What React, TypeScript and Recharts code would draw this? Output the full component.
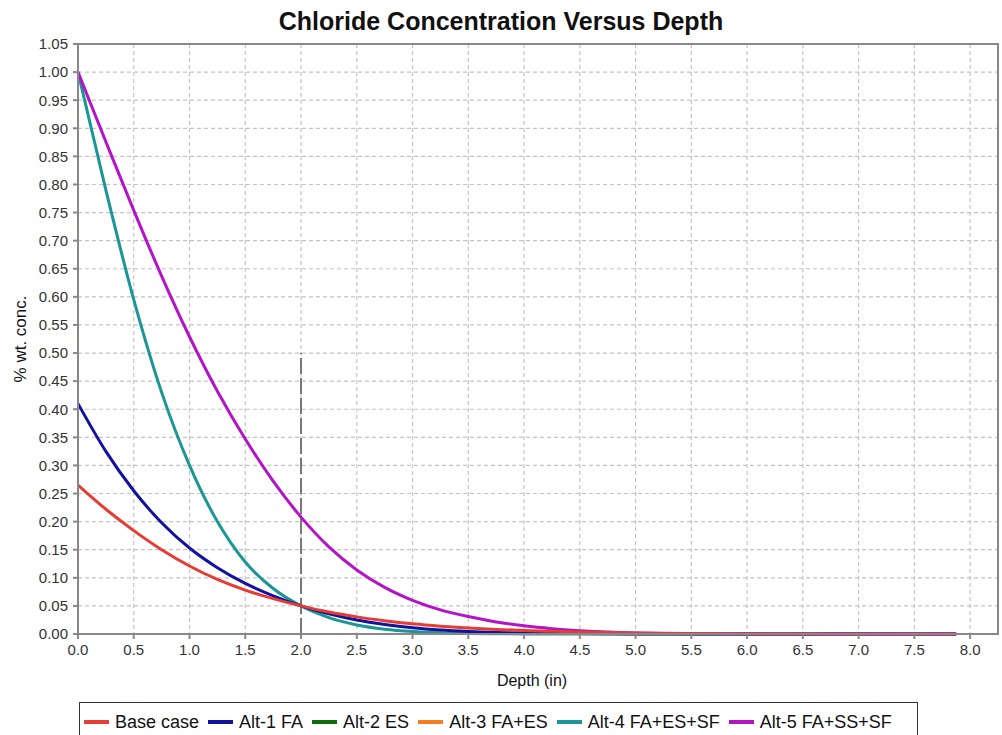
import {
  CartesianGrid,
  Legend,
  Line,
  LineChart,
  ReferenceArea,
  ReferenceLine,
  XAxis,
  YAxis,
} from "recharts";

// depth (in) where the profiles were sampled
const depth = [
  0, 0.25, 0.5, 0.75, 1, 1.25, 1.5, 1.75, 2, 2.25, 2.5, 2.75, 3, 3.25, 3.5, 3.75, 4, 4.25, 4.5,
  4.75, 5, 5.25, 5.5, 5.75, 6, 6.25, 6.5, 6.75, 7, 7.25, 7.5, 7.75, 7.875,
];

// % wt. concentration for each mix
const baseCase = [
  0.265, 0.222, 0.184, 0.15, 0.121, 0.097, 0.078, 0.063, 0.05, 0.039, 0.0305, 0.0237, 0.0182, 0.014,
  0.0107, 0.0082, 0.0062, 0.0047, 0.0035, 0.0026, 0.0019, 0.0014, 0.001, 0.0007, 0.0005, 0.0004,
  0.0003, 0.0002, 0.0002, 0.0001, 0.0001, 0.0001, 0.0001,
];
const alt1FA = [
  0.41, 0.325, 0.255, 0.198, 0.153, 0.118, 0.09, 0.068, 0.05, 0.036, 0.025, 0.017, 0.011, 0.007,
  0.0045, 0.0028, 0.0018, 0.0011, 0.0007, 0.0004, 0.0002, 0.0001, 0.0001, 0, 0, 0, 0, 0, 0, 0, 0,
  0, 0,
];
// Alt-2 and Alt-3 are listed in the legend but no curve is visible for them
const alt2ES: number[] = [];
const alt3FAES: number[] = [];
const alt4FAESSF = [
  1.0, 0.79, 0.595, 0.43, 0.3, 0.2, 0.128, 0.081, 0.05, 0.029, 0.016, 0.0085, 0.0043, 0.0021, 0.001,
  0.0005, 0.0002, 0.0001, 0, 0, 0, 0, 0, 0, 0, 0, 0, 0, 0, 0, 0, 0, 0,
];
const alt5FASSSF = [
  1.0, 0.876, 0.754, 0.637, 0.529, 0.432, 0.347, 0.272, 0.208, 0.155, 0.114, 0.083, 0.06, 0.043,
  0.031, 0.0215, 0.0145, 0.0095, 0.006, 0.0035, 0.002, 0.001, 0.0006, 0.0003, 0.0002, 0.0001, 0, 0,
  0, 0, 0, 0, 0,
];

const xTicks = [0, 0.5, 1, 1.5, 2, 2.5, 3, 3.5, 4, 4.5, 5, 5.5, 6, 6.5, 7, 7.5, 8];
const yTicks = [
  0, 0.05, 0.1, 0.15, 0.2, 0.25, 0.3, 0.35, 0.4, 0.45, 0.5, 0.55, 0.6, 0.65, 0.7, 0.75, 0.8, 0.85,
  0.9, 0.95, 1.0, 1.05,
];

const seriesNames = [
  "Base case",
  "Alt-1 FA",
  "Alt-2 ES",
  "Alt-3 FA+ES",
  "Alt-4 FA+ES+SF",
  "Alt-5 FA+SS+SF",
];
const seriesKeys = ["base", "alt1", "alt2", "alt3", "alt4", "alt5"];
const seriesColors = ["#e63c34", "#1212a0", "#0a6e0a", "#f57d20", "#1a9696", "#b414c8"];
const seriesValues = [baseCase, alt1FA, alt2ES, alt3FAES, alt4FAESSF, alt5FASSSF];
// drawing order, bottom to top
const drawOrder = [2, 3, 4, 5, 1, 0];

const data = depth.map((d, i) => {
  const row: Record<string, number | null> = { depth: d };
  seriesKeys.forEach((key, j) => {
    row[key] = seriesValues[j][i] ?? null;
  });
  return row;
});

const font = "'Liberation Sans', Arial, sans-serif";

const renderLegend = () => (
  <div
    style={{
      boxSizing: "border-box",
      height: 40,
      border: "1.5px solid #333",
      display: "flex",
      alignItems: "center",
      paddingLeft: 4,
      fontFamily: font,
      fontSize: 18,
      color: "#111",
      background: "#fff",
    }}
  >
    {seriesNames.map((name, i) => (
      <span key={name} style={{ display: "flex", alignItems: "center", marginRight: 9 }}>
        <span
          style={{
            display: "inline-block",
            width: 25,
            height: 4,
            background: seriesColors[i],
            marginRight: 6,
          }}
        />
        {name}
      </span>
    ))}
  </div>
);

export default function App() {
  return (
    <div
      style={{
        position: "absolute",
        left: 0,
        top: 0,
        width: 1002,
        height: 735,
        overflow: "hidden",
        background: "#fff",
      }}
    >
      <div
        style={{
          position: "absolute",
          top: 8,
          left: 0,
          width: 1002,
          height: 26,
          lineHeight: "26px",
          textAlign: "center",
          fontFamily: font,
          fontWeight: "bold",
          fontSize: 25,
          color: "#111",
          zIndex: 1,
        }}
      >
        Chloride Concentration Versus Depth
      </div>
      <LineChart
        width={1002}
        height={735}
        data={data}
        margin={{ top: 44, right: 4, bottom: 41, left: 0 }}
      >
        <CartesianGrid stroke="#c4c4c4" strokeDasharray="4 3" strokeWidth={1.2} />
        <XAxis
          dataKey="depth"
          type="number"
          domain={[0, 8.25]}
          ticks={xTicks}
          interval={0}
          height={60}
          tickFormatter={(v: number) => v.toFixed(1)}
          tick={{ fill: "#333", fontSize: 15, fontFamily: font }}
          tickSize={5}
          tickMargin={5}
          stroke="#888"
          strokeWidth={2}
          label={{
            value: "Depth (in)",
            position: "insideBottom",
            offset: 8,
            dx: -6,
            fill: "#111",
            fontSize: 16,
            fontFamily: font,
          }}
        />
        <YAxis
          type="number"
          domain={[0, 1.05]}
          ticks={yTicks}
          interval={0}
          width={78}
          tickFormatter={(v: number) => v.toFixed(2)}
          tick={{ fill: "#333", fontSize: 15, fontFamily: font }}
          tickSize={5}
          tickMargin={5}
          stroke="#888"
          strokeWidth={2}
          label={{
            value: "% wt. conc.",
            angle: -90,
            position: "insideLeft",
            offset: 20,
            fill: "#111",
            fontSize: 17,
            fontFamily: font,
            style: { textAnchor: "middle" },
          }}
        />
        <ReferenceArea
          x1={0}
          x2={8.25}
          y1={0}
          y2={1.05}
          fill="none"
          stroke="#888"
          strokeWidth={2}
        />
        <ReferenceLine
          segment={[
            { x: 2, y: 0 },
            { x: 2, y: 0.5 },
          ]}
          stroke="#777"
          strokeWidth={2}
          strokeDasharray="16 4"
        />
        {drawOrder.map((j) => (
          <Line
            key={seriesKeys[j]}
            type="monotone"
            dataKey={seriesKeys[j]}
            name={seriesNames[j]}
            stroke={seriesColors[j]}
            strokeWidth={3}
            dot={false}
            activeDot={false}
            isAnimationActive={false}
          />
        ))}
        <Legend
          verticalAlign="middle"
          align="center"
          layout="horizontal"
          content={renderLegend}
          wrapperStyle={{ left: 79, top: 702, width: 839 }}
        />
      </LineChart>
    </div>
  );
}
